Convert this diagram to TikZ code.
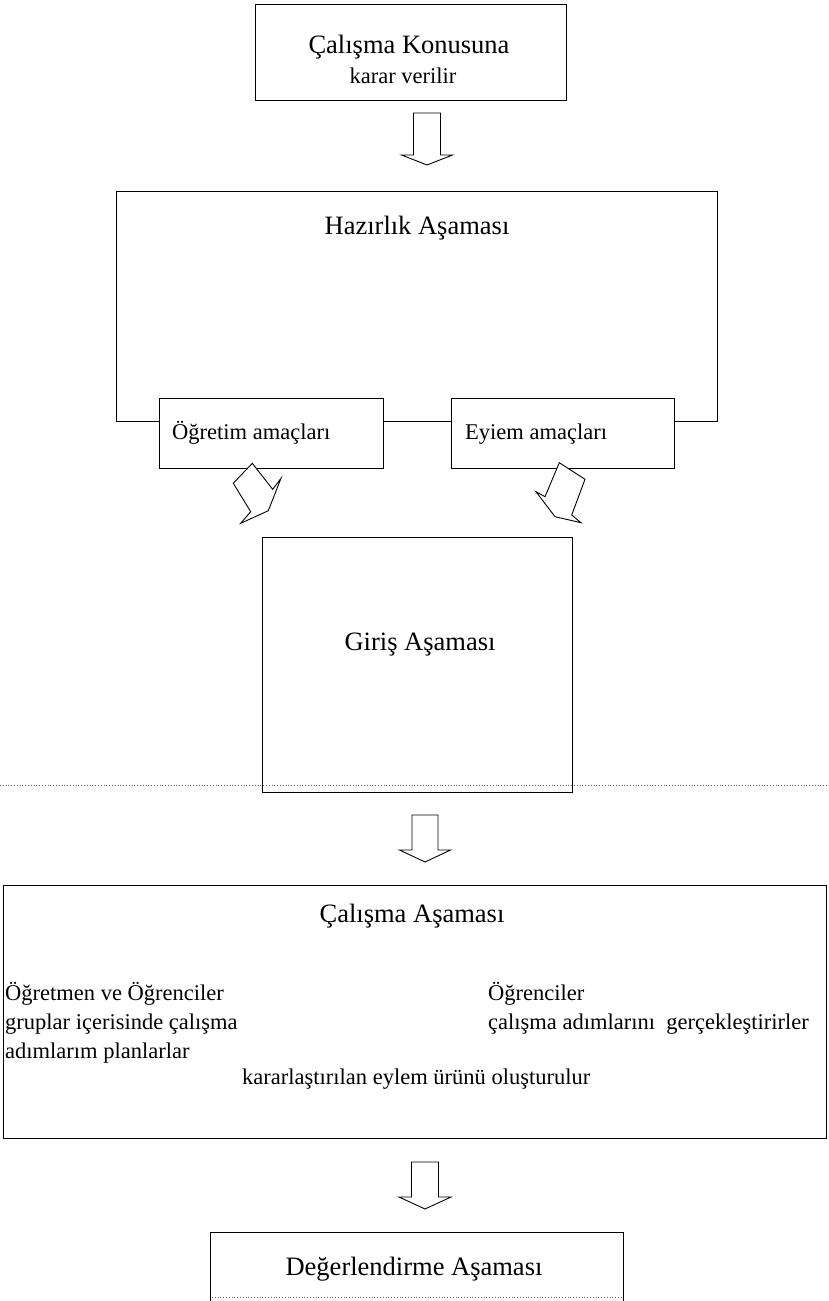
\documentclass[tikz,border=0pt]{standalone}
\usepackage{fontspec}
\setmainfont{Liberation Serif}
\begin{document}
\begin{tikzpicture}[x=1pt,y=-1pt,
  box/.style={draw=black, line width=0.9pt, inner sep=0pt},
  barrow/.style={draw=black, line width=0.9pt, fill=white, line join=miter},
  frame/.style={draw=black, line width=0.9pt},
  big/.style={font=\fontsize{26.5}{30}\selectfont, inner sep=0pt},
  mid/.style={font=\fontsize{22.5}{26}\selectfont, inner sep=0pt},
  scan/.style={draw=black!60, line width=0.8pt, dotted}
]
\useasboundingbox (0,0) rectangle (828,1301);

% top box
\node[box, minimum width=311pt, minimum height=96pt] (top) at (410.5,52) {};
\node[big, anchor=base] (t1) at (409,53) {Çalışma Konusuna};
\node[mid, anchor=base] (t2) at (403,83) {karar verilir};

% arrow 1
\begin{scope}[shift={(427,113)}]
\draw[barrow] (-13.5,0) -- (13.5,0) -- (13.5,42) -- (25.5,42) -- (0,52) -- (-25.5,42) -- (-13.5,42) -- cycle;
\end{scope}

% Hazirlik frame
\node[box, minimum width=224pt, minimum height=70pt] (og) at (271,433) {};
\node[box, minimum width=223pt, minimum height=70pt] (ey) at (562.5,433) {};
\node[mid, anchor=base west] (ogt) at (172,439) {Öğretim amaçları};
\node[mid, anchor=base west] (eyt) at (465,439) {Eyiem amaçları};
\coordinate (fl) at (116,191);
\coordinate (fr) at (717,191);
\coordinate (ly) at (0,421);
\draw[frame] (og.west |- ly) -- (fl |- ly) -- (fl) -- (fr) -- (fr |- ly) -- (ey.east |- ly);
\draw[frame] (og.east |- ly) -- (ey.west |- ly);
\node[big, anchor=base] (hz) at (417,234) {Hazırlık Aşaması};

% diagonal arrows
\draw[barrow] (252.3,463.3) -- (272.7,489.3) -- (281,478.3) -- (268.3,510.7) -- (240.7,523.3) -- (250.7,511.7) -- (233.3,483.3) -- cycle;
\draw[barrow] (559.3,462.7) -- (585,479.3) -- (571.7,515) -- (581,522.7) -- (555,516.7) -- (536,491.7) -- (545,496.7) -- cycle;

% Giris
\node[box, minimum width=310pt, minimum height=255pt] (gr) at (417,664.5) {};
\node[big, anchor=base] (grt) at (420,650) {Giriş Aşaması};
\coordinate (dots) at (0,785);
\draw[scan] (dots) -- (828,785);

% arrow 3
\begin{scope}[shift={(425,815)}]
\draw[barrow] (-13,0) -- (13,0) -- (13,35) -- (25.5,35) -- (0,47) -- (-25.5,35) -- (-13,35) -- cycle;
\end{scope}

% Calisma
\node[box, minimum width=823pt, minimum height=253pt] (cl) at (414.5,1011.5) {};
\node[big, anchor=base] (clt) at (412,922) {Çalışma Aşaması};
\node[mid, anchor=base west] (l1) at (5,1000) {Öğretmen ve Öğrenciler};
\node[mid, anchor=base west] (l2) at (5,1029) {gruplar içerisinde çalışma};
\node[mid, anchor=base west] (l3) at (5,1058) {adımlarım planlarlar};
\node[mid, anchor=base west] (r1) at (488,1000) {Öğrenciler};
\node[mid, anchor=base west] (r2) at (488,1029) {çalışma adımlarını\ \ gerçekleştirirler};
\node[mid, anchor=base west] (kt) at (242,1084) {kararlaştırılan eylem ürünü oluşturulur};

% arrow 4
\begin{scope}[shift={(425,1162)}]
\draw[barrow] (-13.5,0) -- (13.5,0) -- (13.5,35) -- (26,35) -- (0,47) -- (-26,35) -- (-13.5,35) -- cycle;
\end{scope}

% Degerlendirme
\coordinate (dl) at (210,1232);
\coordinate (dr) at (623,1232);
\draw[frame] (dl |- 0,1301) -- (dl) -- (dr) -- (dr |- 0,1301);
\node[big, anchor=base] (dgt) at (414,1275) {Değerlendirme Aşaması};
\draw[scan] (212,1297) -- (621,1297);
\end{tikzpicture}
\end{document}
